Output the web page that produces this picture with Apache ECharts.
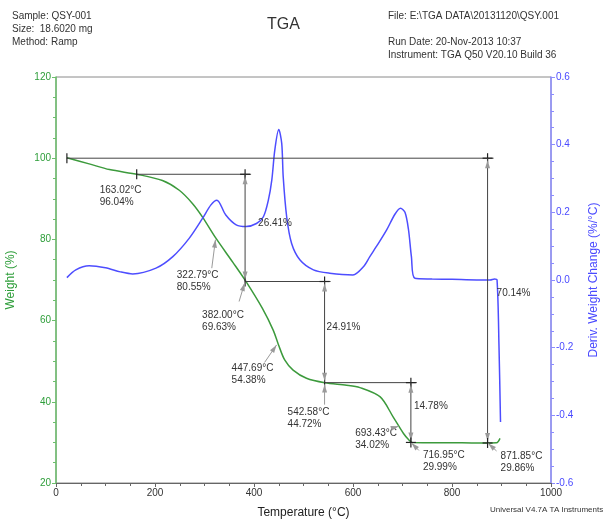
<!DOCTYPE html>
<html>
<head>
<meta charset="utf-8">
<title>TGA</title>
<script src="https://cdn.jsdelivr.net/npm/echarts@6/dist/echarts.min.js"></script>
<style>
  html, body { margin: 0; padding: 0; background: #fff; }
  #chart { width: 603px; height: 521px; }
</style>
</head>
<body>
<div id="chart"></div>
<script>
// weight curve (left axis, %)
const weightT = [22, 67, 108, 165, 215, 249, 276, 296, 323, 357, 384, 417, 439, 449, 462, 479, 506, 543, 587, 614, 655, 681, 702, 713, 720, 760, 800, 840, 872, 890, 897];
const weightPct = [100.1, 98.6, 97.2, 96.0, 94.5, 92.1, 88.8, 85.5, 80.3, 74.4, 69.6, 63.0, 57.6, 54.2, 50.3, 47.8, 45.8, 44.7, 44.1, 43.5, 41.2, 36.3, 32.2, 30.6, 29.95, 29.93, 29.9, 29.88, 29.86, 29.9, 31.0];

// derivative curve (right axis, %/°C)
const derivT = [22, 40, 67, 100, 130, 155, 202, 236, 269, 296, 313, 325, 343, 364, 384, 405, 419, 429, 436, 442, 450, 456, 459, 466, 476, 493, 520, 553, 600, 621, 634, 650, 668, 685, 696, 705, 712, 718, 725, 760, 800, 850, 877, 886, 891, 895, 898];
const derivVal = [0.007, 0.03, 0.042, 0.036, 0.024, 0.018, 0.035, 0.069, 0.123, 0.182, 0.222, 0.236, 0.192, 0.163, 0.158, 0.167, 0.187, 0.236, 0.296, 0.384, 0.445, 0.404, 0.305, 0.187, 0.108, 0.059, 0.03, 0.02, 0.015, 0.039, 0.069, 0.105, 0.148, 0.195, 0.212, 0.2, 0.15, 0.069, 0.005, 0.003, 0.002, 0, 0, 0.003, 0, -0.2, -0.42];

// analysis marks
const markTemps = [163.02, 322.79, 382.00, 447.69, 542.58, 693.43, 716.95, 871.85];
const markWeights = [96.04, 80.55, 69.63, 54.38, 44.72, 34.02, 29.99, 29.86];

// horizontal reference lines: [T start, T end, weight]
const levelLines = [
  [22, 871.85, 100],
  [163.02, 382.00, 96.04],
  [382.00, 542.58, 69.63],
  [542.58, 716.95, 44.72]
];
// weight steps: [T, upper weight, lower weight]
const stepDrops = [
  [382.00, 96.04, 69.63],
  [542.58, 69.63, 44.72],
  [716.95, 44.72, 29.99],
  [871.85, 100, 29.86]
];
const stepLabels = ['26.41%', '24.91%', '14.78%', '70.14%'];

// layout of annotation text (pixel offsets)
const stepLabelOffset = [[13, -5], [2, -5], [3, -6], [9, -7]];
// [text dx, text dy, leader start dx, leader start dy] relative to point
const markLabelOffset = [
  [-37, 10, null, null],
  [-39, 32, -4, 31],
  [-43, 28, -6, 20],
  [-46, 19, -13, 19],
  [-37, 24, 0, 22],
  [-44, 1, -7, 2],
  [12, 7, 8, 8],
  [13, 7, 9, 8]
];

const weightData = weightT.map((t, i) => [t, weightPct[i]]);
const derivData = derivT.map((t, i) => [t, derivVal[i]]);

const lineColor = '#444';
const arrowColor = '#9a9a9a';
const textStyle = { fontFamily: 'Liberation Sans, Arial, sans-serif', fontSize: 10, fill: '#333' };

function arrowHead(tip, from, color) {
  const dx = tip[0] - from[0], dy = tip[1] - from[1];
  const len = Math.sqrt(dx * dx + dy * dy) || 1;
  const ux = dx / len, uy = dy / len;
  const L = 8, W = 2.5;
  const bx = tip[0] - ux * L, by = tip[1] - uy * L;
  return {
    type: 'polygon',
    shape: { points: [tip, [bx - uy * W, by + ux * W], [bx + uy * W, by - ux * W]] },
    style: { fill: color }
  };
}

function cross(p) {
  return [
    { type: 'line', shape: { x1: p[0], y1: p[1] - 5, x2: p[0], y2: p[1] + 5 }, style: { stroke: '#222', lineWidth: 1.2 } },
    { type: 'line', shape: { x1: p[0] - 5, y1: p[1], x2: p[0] + 5, y2: p[1] }, style: { stroke: '#222', lineWidth: 1.2 } }
  ];
}

const chart = echarts.init(document.getElementById('chart'));

const option = {
  animation: false,
  backgroundColor: '#fff',
  textStyle: { fontFamily: 'Liberation Sans, Arial, sans-serif' },
  grid: {
    left: 56, right: 52, top: 77, bottom: 38,
    containLabel: false,
    outerBoundsMode: 'none',
    show: true,
    borderColor: '#8a8a8a',
    borderWidth: 1
  },
  graphic: [
    { type: 'text', left: 12, top: 11, style: { ...textStyle, text: 'Sample: QSY-001' } },
    { type: 'text', left: 12, top: 24, style: { ...textStyle, text: 'Size:  18.6020 mg' } },
    { type: 'text', left: 12, top: 37, style: { ...textStyle, text: 'Method: Ramp' } },
    { type: 'text', left: 267, top: 17, style: { ...textStyle, fontSize: 16, text: 'TGA' } },
    { type: 'text', left: 388, top: 11, style: { ...textStyle, text: 'File: E:\\TGA DATA\\20131120\\QSY.001' } },
    { type: 'text', left: 388, top: 37, style: { ...textStyle, text: 'Run Date: 20-Nov-2013 10:37' } },
    { type: 'text', left: 388, top: 50, style: { ...textStyle, text: 'Instrument: TGA Q50 V20.10 Build 36' } },
    { type: 'text', left: 490, top: 506, style: { ...textStyle, fontSize: 8, text: 'Universal V4.7A TA Instruments' } }
  ],
  xAxis: {
    type: 'value',
    min: 0, max: 1000, interval: 200,
    name: 'Temperature (°C)',
    nameLocation: 'middle',
    nameGap: 24,
    nameTextStyle: { color: '#222', fontSize: 12 },
    axisLine: { onZero: false, lineStyle: { color: '#666' } },
    axisTick: { show: true, length: 4, lineStyle: { color: '#666' } },
    minorTick: { show: true, splitNumber: 4, length: 3, lineStyle: { color: '#666' } },
    axisLabel: { color: '#333', fontSize: 10, margin: 5, formatter: v => String(v) },
    splitLine: { show: false }
  },
  yAxis: [
    {
      type: 'value',
      min: 20, max: 120, interval: 20,
      name: 'Weight (%)',
      nameLocation: 'middle',
      nameGap: 39,
      nameTextStyle: { color: '#2e9e3a', fontSize: 12 },
      axisLine: { show: true, onZero: false, lineStyle: { color: '#6cbf6c', width: 1.5 } },
      axisTick: { show: true, length: 4, lineStyle: { color: '#6cbf6c' } },
      minorTick: { show: true, splitNumber: 4, length: 3, lineStyle: { color: '#6cbf6c' } },
      axisLabel: { color: '#2e9e3a', fontSize: 10, margin: 5 },
      splitLine: { show: false }
    },
    {
      type: 'value',
      position: 'right',
      min: -0.6, max: 0.6, interval: 0.2,
      name: 'Deriv. Weight Change (%/°C)',
      nameLocation: 'middle',
      nameGap: 37,
      nameRotate: 90,
      nameTextStyle: { color: '#4a4aff', fontSize: 12 },
      axisLine: { show: true, onZero: false, lineStyle: { color: '#8c8cff', width: 1.5 } },
      axisTick: { show: true, length: 4, lineStyle: { color: '#8c8cff' } },
      minorTick: { show: true, splitNumber: 4, length: 3, lineStyle: { color: '#8c8cff' } },
      axisLabel: { color: '#4a4aff', fontSize: 10, margin: 5, formatter: v => v.toFixed(1) },
      splitLine: { show: false }
    }
  ],
  series: [
    {
      name: 'Weight',
      type: 'line',
      yAxisIndex: 0,
      data: weightData,
      smooth: 0.3,
      showSymbol: false,
      lineStyle: { color: '#3c9a3c', width: 1.5 },
      z: 3
    },
    {
      name: 'Deriv. Weight',
      type: 'line',
      yAxisIndex: 1,
      data: derivData,
      smooth: 0.3,
      showSymbol: false,
      lineStyle: { color: '#4d4dff', width: 1.5 },
      z: 3
    },
    {
      name: 'levels',
      type: 'custom',
      yAxisIndex: 0,
      data: levelLines.map(d => [d[0], d[2]]),
      z: 4,
      renderItem: (params, api) => {
        const d = levelLines[params.dataIndex];
        const p1 = api.coord([d[0], d[2]]);
        const p2 = api.coord([d[1], d[2]]);
        const children = [
          { type: 'line', shape: { x1: p1[0], y1: p1[1], x2: p2[0] + 6, y2: p2[1] }, style: { stroke: lineColor, lineWidth: 1 } },
          { type: 'line', shape: { x1: p1[0], y1: p1[1] - 5, x2: p1[0], y2: p1[1] + 5 }, style: { stroke: '#222', lineWidth: 1.2 } }
        ].concat(cross(p2));
        return { type: 'group', children };
      }
    },
    {
      name: 'steps',
      type: 'custom',
      yAxisIndex: 0,
      data: stepDrops.map(d => [d[0], d[1]]),
      z: 4,
      renderItem: (params, api) => {
        const i = params.dataIndex;
        const d = stepDrops[i];
        const top = api.coord([d[0], d[1]]);
        const bot = api.coord([d[0], d[2]]);
        const off = stepLabelOffset[i];
        const children = [
          { type: 'line', shape: { x1: top[0], y1: top[1], x2: bot[0], y2: bot[1] }, style: { stroke: lineColor, lineWidth: 1 } },
          arrowHead([top[0], top[1] + 2], [bot[0], bot[1]], arrowColor),
          arrowHead([bot[0], bot[1] - 2], [top[0], top[1]], arrowColor),
          {
            type: 'text',
            x: top[0] + off[0],
            y: (top[1] + bot[1]) / 2 + off[1],
            style: { ...textStyle, text: stepLabels[i], verticalAlign: 'middle' }
          }
        ];
        if (i >= 2) children.push(...cross(bot));
        return { type: 'group', children };
      }
    },
    {
      name: 'points',
      type: 'custom',
      yAxisIndex: 0,
      data: markTemps.map((t, i) => [t, markWeights[i]]),
      z: 5,
      renderItem: (params, api) => {
        const i = params.dataIndex;
        const p = api.coord([markTemps[i], markWeights[i]]);
        const off = markLabelOffset[i];
        const children = [{
          type: 'text',
          x: p[0] + off[0],
          y: p[1] + off[1],
          style: {
            ...textStyle,
            text: markTemps[i].toFixed(2) + '°C\n' + markWeights[i].toFixed(2) + '%',
            lineHeight: 12
          }
        }];
        if (off[2] !== null) {
          const s = [p[0] + off[2], p[1] + off[3]];
          const tip = [p[0] + (s[0] - p[0]) * 0.08, p[1] + (s[1] - p[1]) * 0.08];
          children.push(
            { type: 'line', shape: { x1: s[0], y1: s[1], x2: tip[0], y2: tip[1] }, style: { stroke: arrowColor, lineWidth: 1 } },
            arrowHead(tip, s, arrowColor)
          );
        }
        return { type: 'group', children };
      }
    }
  ]
};

chart.setOption(option);
window.addEventListener('resize', () => chart.resize());
</script>
</body>
</html>
